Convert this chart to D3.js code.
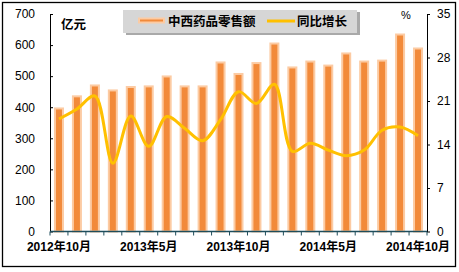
<!DOCTYPE html>
<html><head><meta charset="utf-8">
<script src="https://cdn.jsdelivr.net/npm/d3@7"></script>
<style>
html,body{margin:0;padding:0;background:#fff;}
svg text{font-family:"Liberation Sans","Noto Sans CJK SC",Arial,sans-serif;}
</style></head>
<body>
<svg id="c" width="459" height="272"></svg>
<script>
const categories = ["2012年10月","2012年11月","2012年12月","2013年3月","2013年4月","2013年5月","2013年6月","2013年7月","2013年8月","2013年9月","2013年10月","2013年11月","2013年12月","2014年3月","2014年4月","2014年5月","2014年6月","2014年7月","2014年8月","2014年9月","2014年10月"];
const sales = [396,435,470,454,465,467,499,467,467,544,507,542,605,528,547,534,573,547,550,634,589];
const growth = [18.1,19.7,21.8,11.0,18.6,13.7,18.5,16.6,14.6,18.0,22.5,20.6,23.7,12.9,14.2,13.1,12.2,13.1,16.3,16.8,15.4];
const leftTicks = [0,100,200,300,400,500,600,700];
const rightTicks = [0,7,14,21,28,35];
const seriesNames = ["中西药品零售额","同比增长"];
const unitLeft = "亿元", unitRight = "%";

const svg = d3.select("#c");
const L = 50, R = 427, T = 14, B = 231.5;

svg.append("rect").attr("x",2.5).attr("y",2.5).attr("width",453).attr("height",264)
  .attr("fill","#fff").attr("stroke","#000").attr("stroke-width",1.3);

const x = d3.scaleBand().domain(categories).range([L,R]);
const yL = d3.scaleLinear().domain([0,700]).range([B,T]);
const yR = d3.scaleLinear().domain([0,35]).range([B,T]);

// bars
svg.append("g").selectAll("rect").data(sales).join("rect")
  .attr("x",(d,i)=>x(categories[i])+x.bandwidth()/2-4)
  .attr("y",d=>yL(d))
  .attr("width",8)
  .attr("height",d=>B-yL(d))
  .attr("fill","#F28A3A")
  .attr("stroke","#FCCBA3")
  .attr("stroke-width",2);

// left axis
const gl = svg.append("g").attr("transform",`translate(${L},0)`)
  .call(d3.axisLeft(yL).tickValues(leftTicks).tickSizeInner(-3).tickSizeOuter(0).tickPadding(15));
gl.select(".domain").attr("stroke","#000");
gl.selectAll("line").attr("stroke","#000");
gl.selectAll("text").attr("font-size",12).attr("fill","#000");

// right axis
const gr = svg.append("g").attr("transform",`translate(${R},0)`)
  .call(d3.axisRight(yR).tickValues(rightTicks).tickSizeInner(3).tickSizeOuter(0).tickPadding(7));
gr.select(".domain").attr("stroke","#000");
gr.selectAll("line").attr("stroke","#000");
gr.selectAll("text").attr("font-size",12).attr("fill","#000");

// x axis
const gx = svg.append("g").attr("transform",`translate(0,${B})`);
gx.append("line").attr("x1",L).attr("x2",R).attr("y1",0).attr("y2",0).attr("stroke","#1F4E5C").attr("stroke-width",1.3);
gx.selectAll("line.t").data(d3.range(categories.length+1)).join("line").attr("class","t")
  .attr("x1",i=>L+i*x.step()).attr("x2",i=>L+i*x.step()).attr("y1",0).attr("y2",4)
  .attr("stroke","#1F4E5C");
gx.selectAll("text").data(categories.filter((c,i)=>i%5===0)).join("text")
  .attr("x",c=>x(c)+x.bandwidth()/2).attr("y",19).attr("text-anchor","middle")
  .attr("font-size",12).attr("font-weight","bold").text(c=>c);

// line
const line = d3.line().x((d,i)=>x(categories[i])+x.bandwidth()/2).y(d=>yR(d)).curve(d3.curveCatmullRom.alpha(0.5));
svg.append("path").datum(growth).attr("d",line).attr("fill","none")
  .attr("stroke","#FFC000").attr("stroke-width",3);

// units
svg.append("text").attr("x",61).attr("y",29).attr("font-size",12.5).attr("font-weight","bold").text(unitLeft);
svg.append("text").attr("x",401).attr("y",19).attr("font-size",11).text(unitRight);

// legend
const lg = svg.append("g");
lg.append("rect").attr("x",126).attr("y",12).attr("width",234).attr("height",23).attr("fill","#A9A9A9");
lg.append("rect").attr("x",123).attr("y",10).attr("width",234).attr("height",23).attr("fill","#D6D6D6");
lg.append("rect").attr("x",139).attr("y",18.5).attr("width",25).attr("height",4).attr("fill","#F28A3A").attr("stroke","#FCCBA3").attr("stroke-width",2);
lg.append("text").attr("x",168).attr("y",26).attr("font-size",12.5).attr("font-weight","bold").text(seriesNames[0]);
lg.append("line").attr("x1",267).attr("x2",295).attr("y1",21).attr("y2",21).attr("stroke","#FFC000").attr("stroke-width",3);
lg.append("text").attr("x",297).attr("y",26).attr("font-size",12.5).attr("font-weight","bold").text(seriesNames[1]);
</script>
</body></html>
